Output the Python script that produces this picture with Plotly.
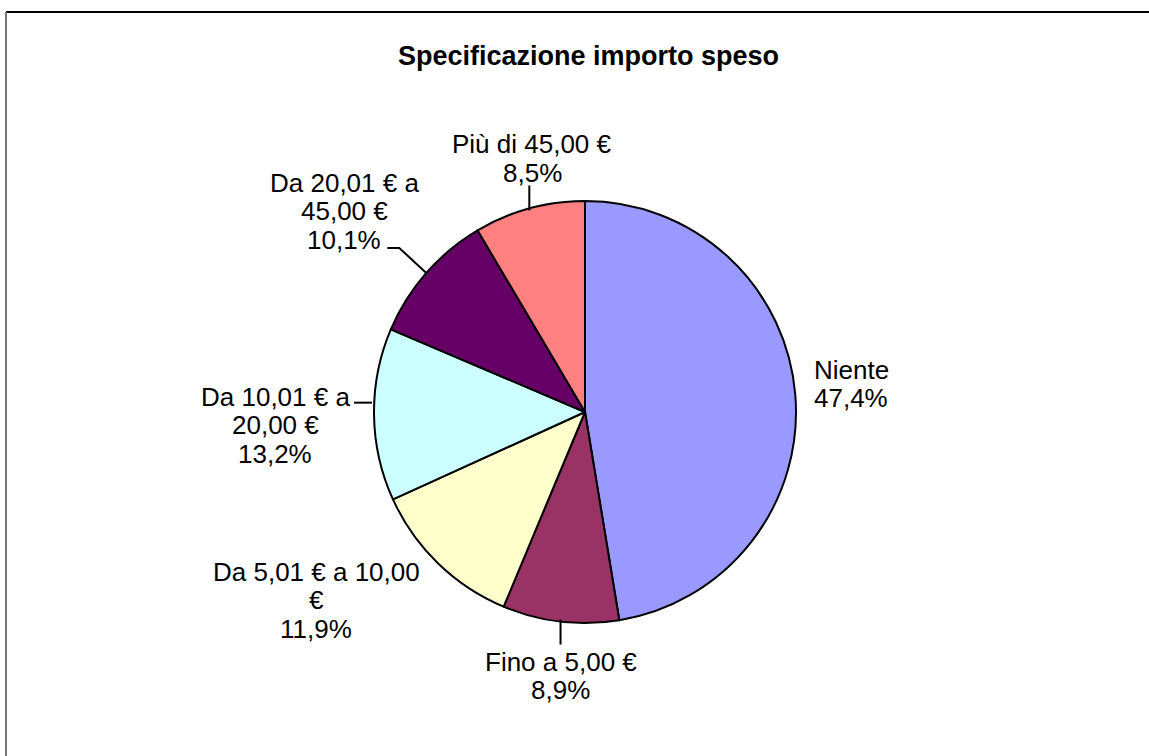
import math
import plotly.graph_objects as go

# ---- data ----
categories = ["Niente", "Fino a 5,00 €", "Da 5,01 € a 10,00 €",
              "Da 10,01 € a 20,00 €", "Da 20,01 € a 45,00 €", "Più di 45,00 €"]
shares = [47.4, 8.9, 11.9, 13.2, 10.1, 8.5]
label_lines = [["Niente"], ["Fino a 5,00 €"], ["Da 5,01 € a 10,00", "€"],
               ["Da 10,01 € a", "20,00 €"], ["Da 20,01 € a", "45,00 €"],
               ["Più di 45,00 €"]]
title_text = "Specificazione importo speso"

# ---- style ----
colors = ["#9999FF", "#993366", "#FFFFCC", "#CCFFFF", "#660066", "#FF8080"]
W, H = 1149, 756
CX, CY, R = 585, 412, 211
FONT = "Liberation Sans, Arial, sans-serif"
FS = 26
LINE_H = 28.5
# first-line centre offset (px) from slice edge midpoint, x-anchor
label_offsets = [(17, -25, "left"), (0, 40, "center"), (-122, 8, "center"),
                 (-99, -18, "center"), (-82, -90, "center"), (3, -64, "center")]
# leader polylines, offsets from slice edge midpoint (px)
leaders = [None, [(0, -2), (0, 23)], None, [(-2, -12), (-20, -12)],
           [(0, 0), (-27, -25), (-39, -25)], [(0, 2), (0, -23)]]

def px(x):
    return x / W

def py(y):
    return 1 - y / H

fig = go.Figure(go.Pie(
    labels=categories, values=shares, sort=False, direction="clockwise",
    rotation=0, textinfo="none", hoverinfo="label+percent",
    marker=dict(colors=colors, line=dict(color="#000000", width=2)),
    domain=dict(x=[px(CX - R), px(CX + R)], y=[py(CY + R), py(CY - R)]),
    showlegend=False,
))

total = sum(shares)
annotations = []
shapes = []
cum = 0.0
for i, v in enumerate(shares):
    mid = (cum + v / 2) / total * 2 * math.pi
    cum += v
    ex = CX + R * math.sin(mid)
    ey = CY - R * math.cos(mid)
    dx, dy, anchor = label_offsets[i]
    lines = label_lines[i] + [f"{v:.1f}".replace(".", ",") + "%"]
    for j, t in enumerate(lines):
        annotations.append(dict(
            x=px(ex + dx), y=py(ey + dy + j * LINE_H), xref="paper", yref="paper",
            text=t, showarrow=False, xanchor=anchor, yanchor="middle",
            font=dict(family=FONT, size=FS, color="#000000")))
    if leaders[i]:
        pts = leaders[i]
        path = "M " + " L ".join(f"{px(ex + a):.5f},{py(ey + b):.5f}" for a, b in pts)
        shapes.append(dict(type="path", path=path, xref="paper", yref="paper",
                           line=dict(color="#000000", width=2)))

# title
annotations.append(dict(x=px(588), y=py(56), xref="paper", yref="paper",
                        text="<b>" + title_text + "</b>", showarrow=False,
                        xanchor="center", yanchor="middle",
                        font=dict(family=FONT, size=27, color="#000000")))

# chart frame (only top and left edges visible)
shapes.append(dict(type="line", x0=px(6), x1=1.05, y0=py(12), y1=py(12),
                   xref="paper", yref="paper", line=dict(color="#000000", width=2)))
shapes.append(dict(type="line", x0=px(6), x1=px(6), y0=py(12), y1=-0.05,
                   xref="paper", yref="paper", line=dict(color="#777777", width=2)))

fig.update_layout(width=W, height=H, margin=dict(l=0, r=0, t=0, b=0),
                  paper_bgcolor="#FFFFFF", plot_bgcolor="#FFFFFF",
                  annotations=annotations, shapes=shapes)
fig.write_html("out.html", config={"displayModeBar": False},
               post_script="document.body.style.margin='0';document.body.style.overflow='hidden';")
